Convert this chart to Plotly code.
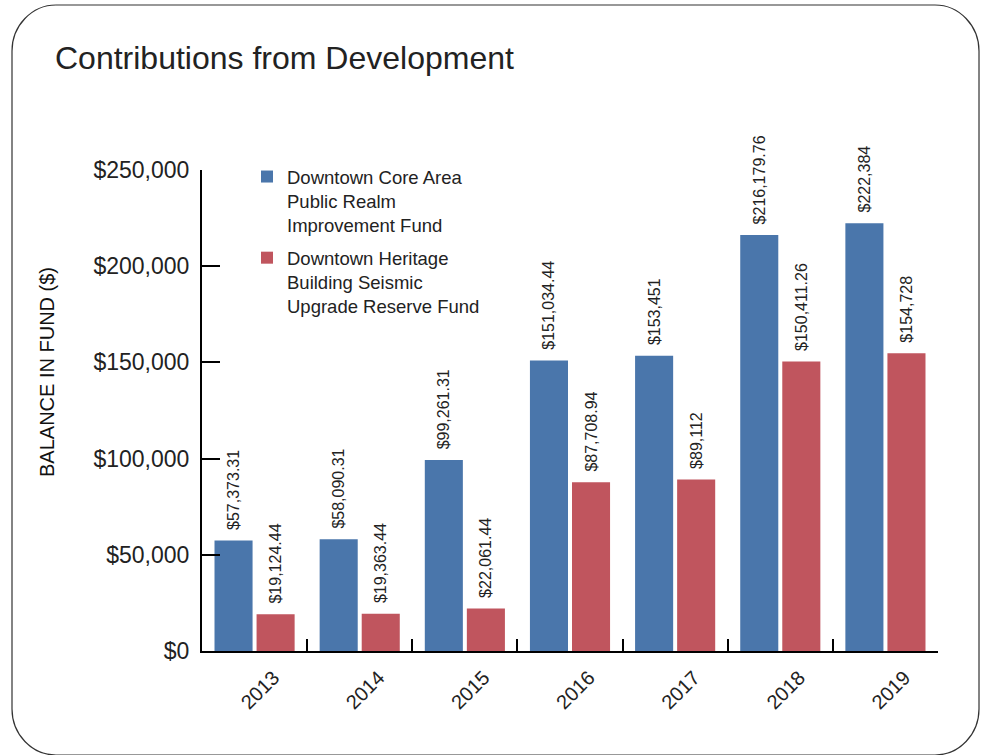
import plotly.graph_objects as go

# Fund balances by year
years = ["2013", "2014", "2015", "2016", "2017", "2018", "2019"]
core_area_fund = [57373.31, 58090.31, 99261.31, 151034.44, 153451, 216179.76, 222384]
heritage_fund = [19124.44, 19363.44, 22061.44, 87708.94, 89112, 150411.26, 154728]
y_tick_values = [0, 50000, 100000, 150000, 200000, 250000]
y_tick_labels = ["$0", "$50,000", "$100,000", "$150,000", "$200,000", "$250,000"]

BLUE = "#4a76ab"
RED = "#c0555e"
FONT = "Liberation Sans, Arial, Helvetica, sans-serif"

W, H = 984, 755
M_L, M_R, M_T, M_B = 202, 46, 170, 104
PW = W - M_L - M_R
PH = H - M_T - M_B


def money(v):
    if float(v).is_integer():
        return "${:,.0f}".format(v)
    return "${:,.2f}".format(v)


def px_x(x):
    return (x - M_L) / PW


def px_y(y):
    return (H - M_B - y) / PH


fig = go.Figure()
for name, vals, color, grp in [
    ("Downtown Core Area<br>Public Realm<br>Improvement Fund", core_area_fund, BLUE, "a"),
    ("Downtown Heritage<br>Building Seismic<br>Upgrade Reserve Fund", heritage_fund, RED, "b"),
]:
    fig.add_trace(go.Bar(
        x=years, y=vals, name=name, legendgroup=grp,
        marker=dict(color=color, line=dict(width=0)),
        # leading spaces keep the rotated label a little clear of the bar top
        text=["\u00a0\u2009" + money(v) for v in vals],
        textposition="outside", textangle=-90,
        textfont=dict(family=FONT, size=16, color="#222"),
        constraintext="none", cliponaxis=False,
    ))

# Rounded frame around the whole graphic (pixel coordinates -> paper)
L, T, R, B = 12, 5, 979, 755
rx, ry = 44, 46
k = 0.55
pts = [
    ("M", [(L + rx, T)]),
    ("L", [(R - rx, T)]),
    ("C", [(R - rx + k * rx, T), (R, T + ry - k * ry), (R, T + ry)]),
    ("L", [(R, B - ry)]),
    ("C", [(R, B - ry + k * ry), (R - rx + k * rx, B), (R - rx, B)]),
    ("L", [(L + rx, B)]),
    ("C", [(L + rx - k * rx, B), (L, B - ry + k * ry), (L, B - ry)]),
    ("L", [(L, T + ry)]),
    ("C", [(L, T + ry - k * ry), (L + rx - k * rx, T), (L + rx, T)]),
]
path = " ".join(
    cmd + " ".join("{:.5f},{:.5f}".format(px_x(x), px_y(y)) for x, y in p)
    for cmd, p in pts
)
fig.add_shape(type="path", path=path, xref="paper", yref="paper",
              line=dict(color="#333", width=1.2), layer="below")

# Vertical axis caption
fig.add_annotation(
    text="BALANCE IN FUND ($)", textangle=-90,
    xref="paper", yref="paper", x=px_x(47), y=px_y(372),
    xanchor="center", yanchor="middle", showarrow=False,
    font=dict(family=FONT, size=20, color="#111"),
)

fig.update_layout(
    width=W, height=H,
    margin=dict(l=M_L, r=M_R, t=M_T, b=M_B, pad=0),
    paper_bgcolor="white", plot_bgcolor="white",
    font=dict(family=FONT, color="#222"),
    barmode="group", bargap=0.2, bargroupgap=0.095,
    showlegend=True,
    title=dict(
        text="Contributions from Development",
        font=dict(family=FONT, size=32, color="#222"),
        x=55 / W, xanchor="left", xref="container",
        y=1 - 58 / H, yanchor="middle", yref="container",
    ),
    legend=dict(
        x=px_x(247), y=px_y(158), xanchor="left", yanchor="top",
        valign="top",
        font=dict(family=FONT, size=18.5, color="#222"),
        bgcolor="rgba(0,0,0,0)", tracegroupgap=6,
        itemclick=False,
    ),
    xaxis=dict(
        type="category",
        showline=True, linecolor="black", linewidth=2,
        ticks="inside", tickson="boundaries", ticklen=12, tickwidth=2, tickcolor="black",
        tickangle=-45, ticklabelshift=19, ticklabelstandoff=5,
        tickfont=dict(family=FONT, size=20, color="#222"),
        showgrid=False, zeroline=False, fixedrange=True,
    ),
    yaxis=dict(
        range=[0, 250000],
        tickvals=y_tick_values, ticktext=y_tick_labels,
        showline=True, linecolor="black", linewidth=2,
        ticks="inside", ticklen=18, tickwidth=2, tickcolor="black",
        ticklabelstandoff=6,
        tickfont=dict(family=FONT, size=23, color="#222"),
        showgrid=False, zeroline=False, fixedrange=True,
    ),
)

fig.write_html("out.html")
